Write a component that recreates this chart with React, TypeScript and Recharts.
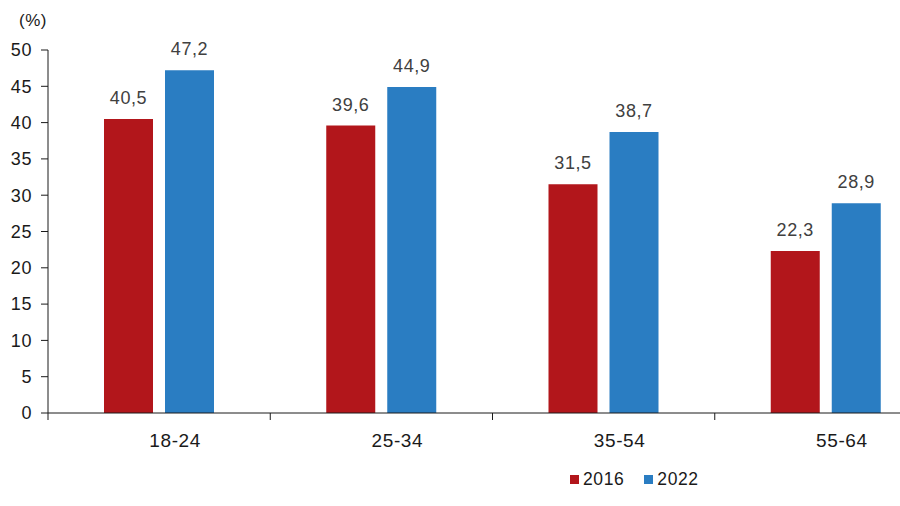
import React from "react"
import { Bar, BarChart, XAxis, YAxis, Legend, LabelList } from "recharts"

// age groups and shares (%)
const categories = ["18-24", "25-34", "35-54", "55-64"]
const values2016 = [40.5, 39.6, 31.5, 22.3]
const values2022 = [47.2, 44.9, 38.7, 28.9]
const seriesNames = ["2016", "2022"]
const yTicks = [0, 5, 10, 15, 20, 25, 30, 35, 40, 45, 50]

const RED = "#b2161b"
const BLUE = "#2a7dc2"
const FONT = '"Liberation Sans", Arial, sans-serif'
const SPACING = 0.6

const data = categories.map((name, i) => ({
  name,
  [seriesNames[0]]: values2016[i],
  [seriesNames[1]]: values2022[i],
}))

const fmt = (v: any) => String(v).replace(".", ",")

// category label + tick marks at band edges
const CategoryTick = (props: any) => {
  const { x, y, payload, index, visibleTicksCount } = props
  const half = payload?.offset ?? 111
  const axisY = y - 18
  const isLast = index === visibleTicksCount - 1
  return (
    <g>
      <line x1={x - half} x2={x - half} y1={axisY} y2={axisY + 7} stroke="#1a1a1a" />
      {isLast && <line x1={x + half} x2={x + half} y1={axisY} y2={axisY + 7} stroke="#1a1a1a" />}
      <text x={x + 16} y={axisY + 34} textAnchor="middle" fontSize={19} letterSpacing={SPACING} fill="#1a1a1a" fontFamily={FONT}>
        {payload.value}
      </text>
    </g>
  )
}

const LegendContent = (props: any) => {
  const items = props.payload || []
  return (
    <div style={{ display: "flex", alignItems: "center", fontFamily: FONT, fontSize: 17.5, letterSpacing: SPACING, color: "#1a1a1a" }}>
      {items.map((it: any, i: number) => (
        <div key={i} style={{ display: "flex", alignItems: "center", marginRight: 20 }}>
          <span style={{ display: "inline-block", width: 9, height: 9, background: it.color, marginRight: 4 }} />
          <span>{it.value}</span>
        </div>
      ))}
    </div>
  )
}

const PercentLabel = () => (
  <text x={33} y={26} textAnchor="middle" fontSize={17} letterSpacing={SPACING} fill="#1a1a1a" fontFamily={FONT}>
    (%)
  </text>
)

export default function App() {
  return (
    <div style={{ position: "absolute", left: 0, top: 0, width: 900, height: 506, overflow: "hidden", background: "#fff" }}>
      <BarChart
        width={948}
        height={506}
        data={data}
        margin={{ top: 50, right: 11, left: 0, bottom: 0 }}
        barSize={49}
        barGap={12}
      >
        <XAxis
          dataKey="name"
          height={93}
          axisLine={{ stroke: "#1a1a1a" }}
          tickLine={false}
          tickSize={7}
          tickMargin={11}
          tick={<CategoryTick />}
          interval={0}
        />
        <YAxis
          width={48}
          domain={[0, 50]}
          ticks={yTicks}
          interval={0}
          axisLine={{ stroke: "#1a1a1a" }}
          tickLine={{ stroke: "#1a1a1a" }}
          tickSize={7}
          tickMargin={9}
          tick={{ fontSize: 18, letterSpacing: SPACING, fill: "#1a1a1a", fontFamily: FONT }}
          label={{ content: <PercentLabel /> }}
        />
        <Legend
          layout="horizontal"
          verticalAlign="middle"
          align="center"
          content={<LegendContent />}
          wrapperStyle={{ left: 570, top: 469, width: "auto", height: 20, bottom: "auto" }}
        />
        <Bar dataKey={seriesNames[0]} fill={RED} isAnimationActive={false}>
          <LabelList dataKey={seriesNames[0]} position="top" offset={15} formatter={fmt} fontSize={18} letterSpacing={SPACING} fill="#404040" fontFamily={FONT} />
        </Bar>
        <Bar dataKey={seriesNames[1]} fill={BLUE} isAnimationActive={false}>
          <LabelList dataKey={seriesNames[1]} position="top" offset={15} formatter={fmt} fontSize={18} letterSpacing={SPACING} fill="#404040" fontFamily={FONT} />
        </Bar>
      </BarChart>
    </div>
  )
}
